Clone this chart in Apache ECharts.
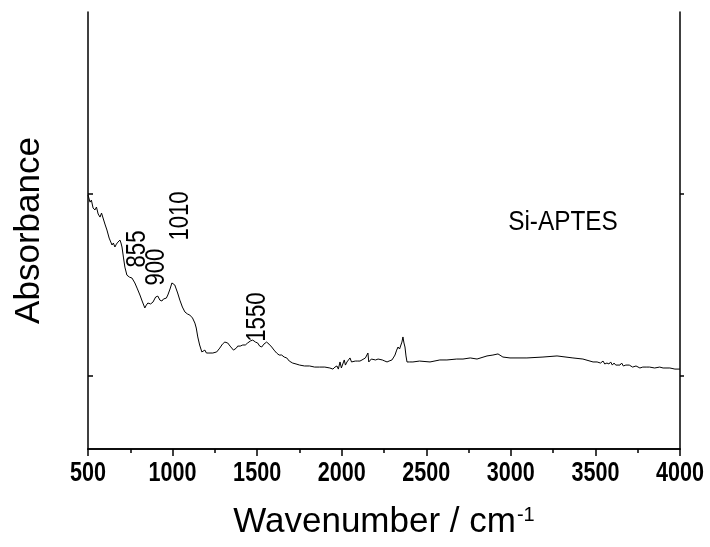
<!DOCTYPE html>
<html>
<head>
<meta charset="utf-8">
<script src="https://cdn.jsdelivr.net/npm/echarts@6/dist/echarts.min.js"></script>
<style>
html,body{margin:0;padding:0;background:#fff;}
#main{width:710px;height:547px;}
</style>
</head>
<body>
<div id="main"></div>
<script>
// Wavenumber (cm-1)
const wavenumber = [500,512,520,530,541,550,560,571,580,589,600,612,625,642,650,659,668,677,689,695,701,710,718,730,745,760,777,790,807,820,836,845,854,870,884,900,913,925,937,946,954,963,972,985,996,1005,1013,1030,1043,1058,1073,1088,1102,1118,1132,1140,1149,1160,1173,1182,1191,1200,1215,1238,1261,1279,1295,1309,1326,1340,1350,1360,1368,1377,1385,1400,1415,1430,1444,1460,1474,1490,1503,1515,1527,1540,1556,1570,1586,1600,1615,1630,1645,1660,1675,1690,1710,1730,1751,1780,1810,1840,1869,1900,1930,1948,1960,1972,1980,1990,1998,2008,2015,2022,2031,2040,2049,2058,2067,2080,2095,2108,2120,2130,2140,2149,2155,2160,2167,2175,2185,2200,2215,2226,2240,2255,2268,2280,2297,2308,2315,2325,2333,2342,2350,2356,2362,2368,2374,2380,2386,2400,2421,2460,2522,2580,2622,2680,2717,2760,2800,2859,2894,2924,2953,2995,3095,3190,3273,3367,3426,3486,3510,3530,3545,3555,3568,3580,3590,3600,3610,3620,3630,3645,3655,3665,3680,3700,3720,3740,3763,3780,3800,3820,3850,3880,3900,3940,3970,4000];
// Absorbance (a.u.)
const absorbance = [1.392,1.353,1.364,1.321,1.310,1.326,1.288,1.271,1.293,1.266,1.233,1.200,1.156,1.118,1.129,1.107,1.123,1.134,1.145,1.129,1.107,1.047,0.997,0.953,0.942,0.937,0.910,0.882,0.844,0.811,0.773,0.789,0.800,0.795,0.805,0.833,0.838,0.816,0.811,0.822,0.816,0.827,0.844,0.877,0.910,0.910,0.899,0.855,0.816,0.778,0.751,0.740,0.734,0.718,0.690,0.663,0.614,0.570,0.532,0.542,0.542,0.526,0.526,0.526,0.532,0.553,0.575,0.586,0.581,0.564,0.559,0.542,0.537,0.553,0.564,0.564,0.570,0.570,0.581,0.592,0.597,0.586,0.581,0.564,0.559,0.575,0.586,0.575,0.559,0.542,0.526,0.515,0.515,0.504,0.499,0.482,0.471,0.466,0.460,0.455,0.455,0.449,0.449,0.449,0.444,0.438,0.449,0.455,0.438,0.477,0.444,0.449,0.488,0.460,0.477,0.488,0.499,0.477,0.477,0.482,0.482,0.482,0.488,0.482,0.499,0.499,0.526,0.477,0.477,0.493,0.499,0.488,0.493,0.493,0.488,0.482,0.477,0.482,0.488,0.504,0.515,0.542,0.559,0.548,0.553,0.586,0.614,0.581,0.559,0.510,0.477,0.477,0.477,0.482,0.477,0.488,0.488,0.493,0.493,0.499,0.493,0.510,0.515,0.521,0.504,0.499,0.499,0.504,0.510,0.499,0.493,0.477,0.477,0.471,0.482,0.466,0.471,0.466,0.477,0.460,0.471,0.460,0.466,0.460,0.471,0.455,0.460,0.460,0.449,0.455,0.444,0.449,0.449,0.449,0.444,0.449,0.444,0.444,0.438,0.438];
// X tick labels
const xTicks = [500,1000,1500,2000,2500,3000,3500,4000];
// Peak annotations: [text, wavenumber, absorbance]
const peakLabels = [["855",790,1.096],["900",908,0.997],["1010",1050,1.277],["1550",1505,0.723]];
const sampleLabel = ["Si-APTES",3308,1.244];

const sans = "'Liberation Sans',Arial,sans-serif";
const chart = echarts.init(document.getElementById('main'));
const lineStyle = {color:'#000', width:1.5};
chart.setOption({
  animation:false,
  backgroundColor:'#fff',
  grid:{left:88, right:30, top:12, bottom:98},
  xAxis:[{
    type:'value', min:500, max:4000, interval:500, position:'bottom',
    axisLine:{lineStyle}, splitLine:{show:false},
    axisTick:{inside:false,length:7,lineStyle},
    minorTick:{show:true,splitNumber:2,length:4,lineStyle:{color:'#000',width:1.5}},
    axisLabel:{show:false},
    name:'{a|Wavenumber / cm}{s|-1}', nameLocation:'middle', nameGap:56,
    nameTextStyle:{rich:{a:{fontFamily:sans,fontSize:35,color:'#000',verticalAlign:'bottom'},
      s:{fontFamily:sans,fontSize:20,color:'#000',verticalAlign:'top',padding:[0,0,0,1]}}}
  },{
    type:'value', min:500, max:4000, interval:250, position:'top',
    axisLine:{lineStyle}, splitLine:{show:false},
    axisTick:{inside:true,length:4,lineStyle}, axisLabel:{show:false}
  }],
  yAxis:[{
    type:'value', min:0, max:2.395, position:'left',
    axisLine:{show:true,lineStyle}, splitLine:{show:false},
    axisTick:{show:true,inside:true,length:5,lineStyle,customValues:[0.4,1.4]},
    axisLabel:{show:false},
    name:'Absorbance', nameLocation:'middle', nameRotate:90, nameGap:41,
    nameTextStyle:{fontFamily:sans,fontSize:35,color:'#000'}
  },{
    type:'value', min:0, max:2.395, position:'right',
    axisLine:{show:true,lineStyle}, splitLine:{show:false},
    axisTick:{show:true,inside:false,length:4,lineStyle,customValues:[0.4,1.4]},
    axisLabel:{show:false}
  }],
  series:[{
    type:'line', xAxisIndex:0, yAxisIndex:0, showSymbol:false, symbol:'none',
    lineStyle:{color:'#000',width:1},
    data: wavenumber.map((w,i)=>[w,absorbance[i]])
  }]
});
// condensed tick labels (scaled text placed via the axis scale)
const graphics = xTicks.map(v=>{
  const p = chart.convertToPixel({gridIndex:0},[v,0]);
  return {type:'text', x:p[0], y:p[1]+25, scaleX:0.8, silent:true,
    style:{text:String(v), fontFamily:sans, fontWeight:'bold', fontSize:27, fill:'#000', align:'center', verticalAlign:'middle'}};
});
peakLabels.forEach(([t,x,y])=>{
  const p = chart.convertToPixel({gridIndex:0},[x,y]);
  graphics.push({type:'text', x:p[0], y:p[1], rotation:Math.PI/2, scaleX:0.82, silent:true,
    style:{text:t, fontFamily:sans, fontSize:27, fill:'#000', align:'center', verticalAlign:'middle'}});
});
const sp = chart.convertToPixel({gridIndex:0},[sampleLabel[1],sampleLabel[2]]);
graphics.push({type:'text', x:sp[0], y:sp[1], scaleX:0.87, silent:true,
  style:{text:sampleLabel[0], fontFamily:sans, fontSize:28, fill:'#000', align:'center', verticalAlign:'middle'}});
chart.setOption({graphic:graphics});
</script>
</body>
</html>
